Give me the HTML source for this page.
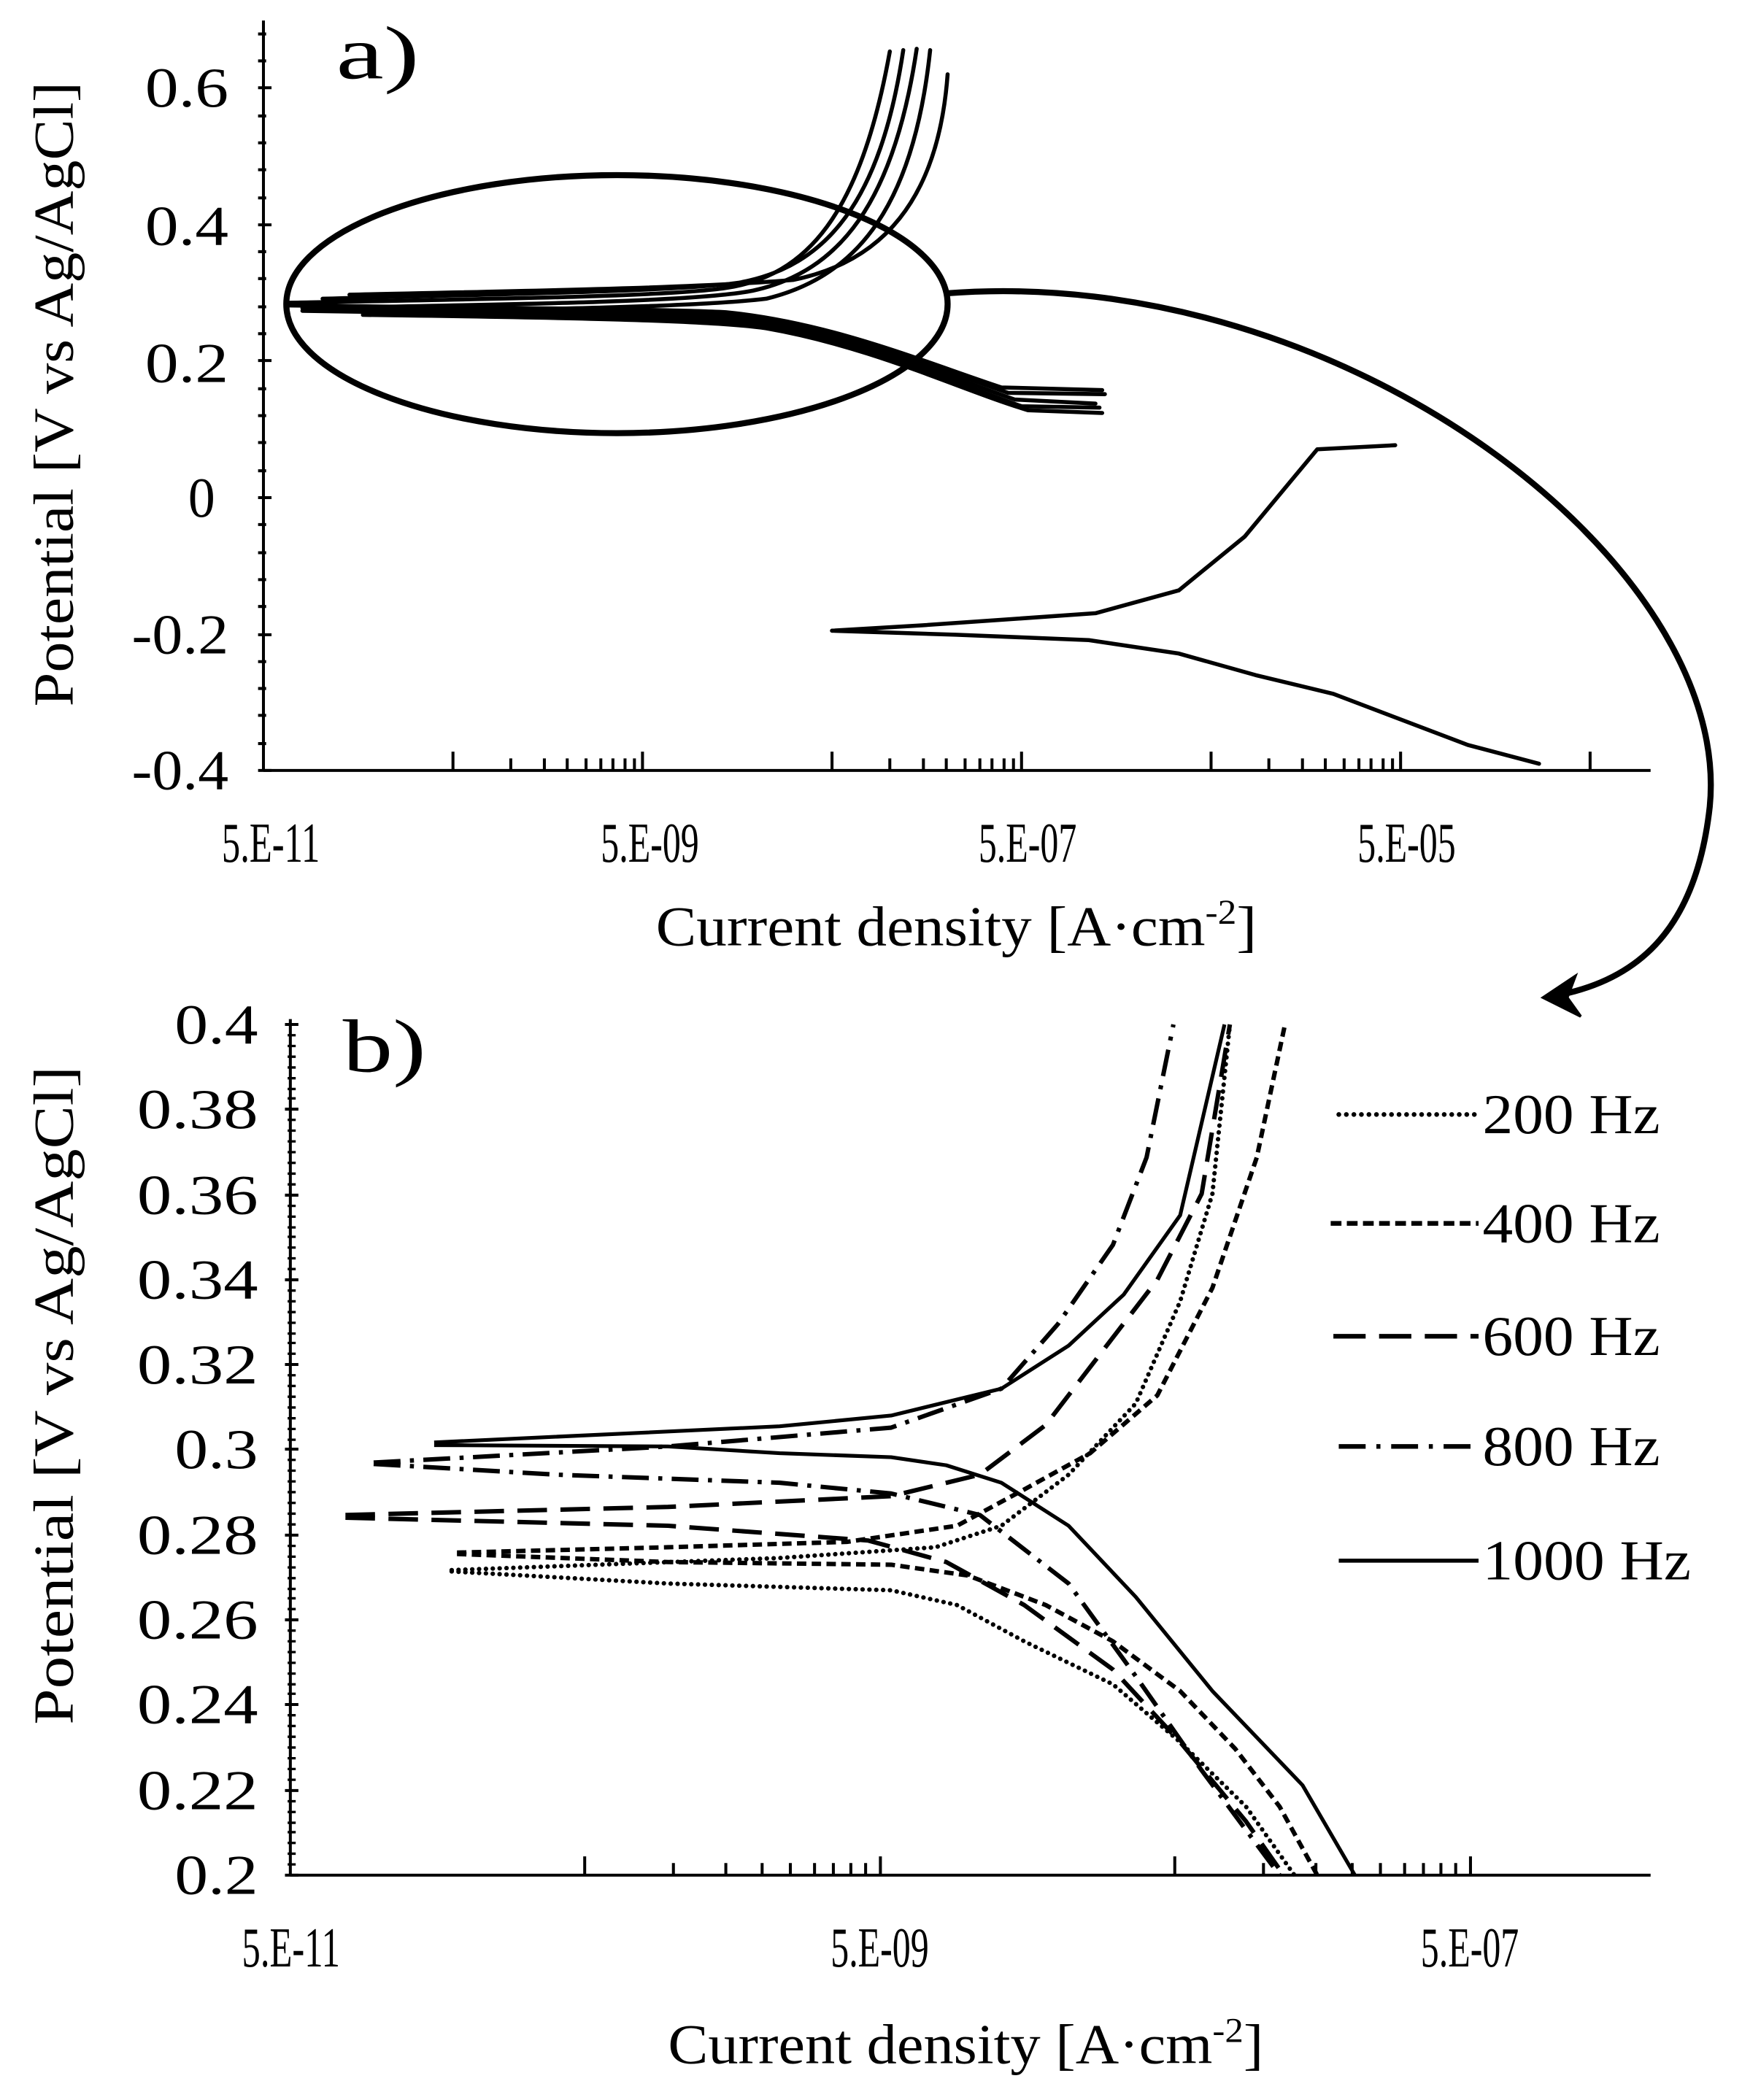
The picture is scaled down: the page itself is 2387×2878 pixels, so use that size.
<!DOCTYPE html>
<html><head><meta charset="utf-8"><style>html,body{margin:0;padding:0;background:#fff}svg{display:block}svg text{font-family:"Liberation Serif",serif}</style></head>
<body>
<svg width="2387" height="2878" viewBox="0 0 1296 1562" xmlns="http://www.w3.org/2000/svg" style="font-family:'Liberation Serif',serif" fill="none" stroke="#000">
<rect x="0" y="0" width="1296" height="1562" fill="#fff" stroke="none"/>
<!-- ===== Panel a ===== -->
<g stroke-width="2.2">
<line x1="196" y1="15" x2="196" y2="573"/>
<line x1="196" y1="573" x2="1228" y2="573"/>
<path d="M192 573h10M192 553h6M192 532h6M192 512h6M192 492h6M192 472h10M192 451h6M192 431h6M192 411h6M192 390h6M192 370h10M192 350h6M192 329h6M192 309h6M192 289h6M192 268h10M192 248h6M192 228h6M192 207h6M192 187h6M192 167h10M192 147h6M192 126h6M192 106h6M192 86h6M192 65h10M192 45h6M192 25h6"/>
<path d="M337 573v-14M478 573v-14M619 573v-14M760 573v-14M901 573v-14M1042 573v-14M1183 573v-14
M380 573v-9M405 573v-9M422 573v-9M436 573v-9M447 573v-9M456 573v-9M465 573v-9M472 573v-9
M662 573v-9M687 573v-9M704 573v-9M718 573v-9M729 573v-9M738 573v-9M747 573v-9M754 573v-9
M944 573v-9M969 573v-9M986 573v-9M1000 573v-9M1011 573v-9M1020 573v-9M1029 573v-9M1036 573v-9"/>
</g>
<g fill="#000" stroke="none" font-size="42">
<text x="170" y="79" text-anchor="end" textLength="62" lengthAdjust="spacingAndGlyphs">0.6</text>
<text x="170" y="182" text-anchor="end" textLength="62" lengthAdjust="spacingAndGlyphs">0.4</text>
<text x="170" y="284" text-anchor="end" textLength="62" lengthAdjust="spacingAndGlyphs">0.2</text>
<text x="160" y="384" text-anchor="end" textLength="20" lengthAdjust="spacingAndGlyphs">0</text>
<text x="170" y="486" text-anchor="end" textLength="72" lengthAdjust="spacingAndGlyphs">-0.2</text>
<text x="170" y="587" text-anchor="end" textLength="72" lengthAdjust="spacingAndGlyphs">-0.4</text>
<text x="165" y="641" textLength="73" lengthAdjust="spacingAndGlyphs">5.E-11</text>
<text x="447" y="641" textLength="73" lengthAdjust="spacingAndGlyphs">5.E-09</text>
<text x="728" y="641" textLength="73" lengthAdjust="spacingAndGlyphs">5.E-07</text>
<text x="1010" y="641" textLength="73" lengthAdjust="spacingAndGlyphs">5.E-05</text>
<text x="488" y="703" textLength="447" lengthAdjust="spacingAndGlyphs">Current density [A·cm<tspan font-size="26" dy="-16">-2</tspan><tspan dy="16">]</tspan></text>
<text transform="translate(54,293) rotate(-90)" text-anchor="middle" textLength="465" lengthAdjust="spacingAndGlyphs">Potential [V vs Ag/AgCl]</text>
<text x="250" y="58" font-size="56" textLength="62" lengthAdjust="spacingAndGlyphs">a)</text>
</g>
<g stroke-width="3" stroke-linejoin="round" stroke-linecap="round">
<path d="M215 225 C380 222 500 220 540 214 C600 205 640 160 662 38"/>
<path d="M240 222 C400 218 510 216 550 210 C615 198 655 150 672 37"/>
<path d="M225 229 C400 226 520 224 560 216 C625 202 665 150 682 36"/>
<path d="M270 232 C400 230 520 228 570 222 C640 205 680 150 692 37"/>
<path d="M260 219 C400 216 520 214 590 208 C655 195 698 150 705 55"/>
<path d="M215 227 C400 229 500 230 540 232 C620 240 690 270 745 288 L820 290"/>
<path d="M240 229 C400 231 510 233 550 235 C630 245 700 275 750 292 L822 293"/>
<path d="M225 231 C420 234 520 236 560 240 C640 252 710 285 760 302 L818 303"/>
<path d="M270 234 C420 236 530 238 570 244 C650 258 715 290 765 305 L820 307"/>
<path d="M260 230 C420 232 520 235 560 238 C640 250 705 280 755 297 L815 300"/>
<path d="M619 469 L686 465 L815 456 L877 439 L926 399 L980 334 L1038 331"/>
<path d="M619 469 L711 472 L810 476 L877 486 L934 502 L992 516 L1042 535 L1092 554 L1145 568"/>
</g>
<ellipse cx="459" cy="226" rx="246" ry="96" stroke-width="4.5"/>
<path d="M704 218 C1000 195 1290 420 1272 600 C1262 690 1220 728 1160 740" stroke-width="4.5"/>
<path d="M1148 742 L1172 726 L1166 742 L1176 756 Z" fill="#000" stroke-width="2"/>
<!-- ===== Panel b ===== -->
<g stroke-width="2.2">
<line x1="216" y1="758" x2="216" y2="1395"/>
<line x1="216" y1="1395" x2="1228" y2="1395"/>
<path d="M212 762h10M212 825h10M212 889h10M212 952h10M212 1015h10M212 1078h10M212 1142h10M212 1205h10M212 1268h10M212 1332h10M212 1395h10"/>
<path stroke-width="1.8" d="M214 770h6M214 778h6M214 786h6M214 794h6M214 802h6M214 810h6M214 817h6M214 833h6M214 841h6M214 849h6M214 857h6M214 865h6M214 873h6M214 881h6M214 897h6M214 905h6M214 913h6M214 920h6M214 928h6M214 936h6M214 944h6M214 960h6M214 968h6M214 976h6M214 984h6M214 992h6M214 999h6M214 1007h6M214 1023h6M214 1031h6M214 1039h6M214 1047h6M214 1055h6M214 1063h6M214 1071h6M214 1086h6M214 1094h6M214 1102h6M214 1110h6M214 1118h6M214 1126h6M214 1134h6M214 1150h6M214 1158h6M214 1166h6M214 1174h6M214 1182h6M214 1189h6M214 1197h6M214 1213h6M214 1221h6M214 1229h6M214 1237h6M214 1245h6M214 1253h6M214 1260h6M214 1276h6M214 1284h6M214 1292h6M214 1300h6M214 1308h6M214 1316h6M214 1324h6M214 1340h6M214 1348h6M214 1356h6M214 1363h6M214 1371h6M214 1379h6M214 1387h6"/>
<path d="M435 1395v-14M655 1395v-14M874 1395v-14M1094 1395v-14
M501 1395v-9M540 1395v-9M567 1395v-9M588 1395v-9M606 1395v-9M620 1395v-9M633 1395v-9M644 1395v-9
M940 1395v-9M979 1395v-9M1006 1395v-9M1027 1395v-9M1045 1395v-9M1059 1395v-9M1072 1395v-9M1083 1395v-9"/>
</g>
<g fill="#000" stroke="none" font-size="42">
<text x="192" y="776" text-anchor="end" textLength="62" lengthAdjust="spacingAndGlyphs">0.4</text>
<text x="192" y="839" text-anchor="end" textLength="90" lengthAdjust="spacingAndGlyphs">0.38</text>
<text x="192" y="903" text-anchor="end" textLength="90" lengthAdjust="spacingAndGlyphs">0.36</text>
<text x="192" y="966" text-anchor="end" textLength="90" lengthAdjust="spacingAndGlyphs">0.34</text>
<text x="192" y="1029" text-anchor="end" textLength="90" lengthAdjust="spacingAndGlyphs">0.32</text>
<text x="192" y="1092" text-anchor="end" textLength="62" lengthAdjust="spacingAndGlyphs">0.3</text>
<text x="192" y="1156" text-anchor="end" textLength="90" lengthAdjust="spacingAndGlyphs">0.28</text>
<text x="192" y="1219" text-anchor="end" textLength="90" lengthAdjust="spacingAndGlyphs">0.26</text>
<text x="192" y="1282" text-anchor="end" textLength="90" lengthAdjust="spacingAndGlyphs">0.24</text>
<text x="192" y="1346" text-anchor="end" textLength="90" lengthAdjust="spacingAndGlyphs">0.22</text>
<text x="192" y="1409" text-anchor="end" textLength="62" lengthAdjust="spacingAndGlyphs">0.2</text>
<text x="180" y="1463" textLength="73" lengthAdjust="spacingAndGlyphs">5.E-11</text>
<text x="618" y="1463" textLength="73" lengthAdjust="spacingAndGlyphs">5.E-09</text>
<text x="1057" y="1463" textLength="73" lengthAdjust="spacingAndGlyphs">5.E-07</text>
<text x="497" y="1535" textLength="443" lengthAdjust="spacingAndGlyphs">Current density [A·cm<tspan font-size="26" dy="-16">-2</tspan><tspan dy="16">]</tspan></text>
<text transform="translate(54,1038) rotate(-90)" text-anchor="middle" textLength="490" lengthAdjust="spacingAndGlyphs">Potential [V vs Ag/AgCl]</text>
<text x="255" y="797" font-size="56" textLength="62" lengthAdjust="spacingAndGlyphs">b)</text>
<text x="1103" y="843" textLength="132" lengthAdjust="spacingAndGlyphs">200 Hz</text>
<text x="1103" y="924" textLength="132" lengthAdjust="spacingAndGlyphs">400 Hz</text>
<text x="1103" y="1008" textLength="132" lengthAdjust="spacingAndGlyphs">600 Hz</text>
<text x="1103" y="1090" textLength="132" lengthAdjust="spacingAndGlyphs">800 Hz</text>
<text x="1103" y="1175" textLength="155" lengthAdjust="spacingAndGlyphs">1000 Hz</text>
</g>
<g stroke-width="3.5">
<line x1="996" y1="829" x2="1100" y2="829" stroke-dasharray="0.1 5.5" stroke-linecap="round"/>
<line x1="990" y1="910" x2="1100" y2="910" stroke-dasharray="8 4"/>
<line x1="992" y1="994" x2="1100" y2="994" stroke-dasharray="24 10"/>
<line x1="996" y1="1076" x2="1100" y2="1076" stroke-dasharray="20 8 3 8"/>
<line x1="996" y1="1161" x2="1100" y2="1161" stroke-width="3"/>
</g>
<g stroke-width="3.3" stroke-linejoin="round">
<!-- 1000 Hz -->
<path stroke-width="2.8" d="M323 1073 L580 1061 L663 1053 L745 1033 L795 1001 L836 963 L878 904 L911 762"/>
<path stroke-width="2.8" d="M323 1075 L497 1076 L580 1081 L663 1084 L704 1090 L745 1103 L795 1135 L845 1188 L902 1258 L969 1328 L1008 1395"/>
<!-- 800 Hz -->
<path stroke-dasharray="20 7 3 7" d="M278 1088 L497 1076 L663 1062 L745 1033 L787 985 L828 926 L853 861 L873 762"/>
<path stroke-dasharray="20 7 3 7" d="M278 1089 L414 1097 L580 1103 L663 1111 L729 1127 L795 1178 L845 1247 L894 1317 L952 1395"/>
<!-- 600 Hz -->
<path stroke-dasharray="22 10" d="M257 1127 L497 1121 L663 1113 L729 1097 L778 1060 L811 1017 L861 952 L894 888 L915 762"/>
<path stroke-dasharray="22 10" d="M257 1129 L497 1135 L646 1146 L704 1162 L762 1194 L828 1242 L878 1296 L927 1355 L955 1395"/>
<!-- 400 Hz -->
<path stroke-dasharray="7 4" d="M340 1155 L497 1151 L630 1147 L712 1135 L762 1108 L811 1081 L861 1038 L902 958 L935 861 L956 762"/>
<path stroke-dasharray="7 4" d="M340 1156 L497 1162 L663 1164 L720 1172 L778 1194 L828 1221 L878 1258 L919 1301 L952 1344 L980 1395"/>
<!-- 200 Hz -->
<path stroke-dasharray="0.1 5" stroke-linecap="round" d="M336 1168 L580 1159 L696 1151 L745 1135 L795 1097 L845 1044 L878 968 L902 888 L915 762"/>
<path stroke-dasharray="0.1 5" stroke-linecap="round" d="M336 1169 L497 1178 L663 1183 L712 1194 L762 1221 L828 1253 L878 1296 L927 1344 L963 1395"/>
</g>
</svg>
</body></html>
